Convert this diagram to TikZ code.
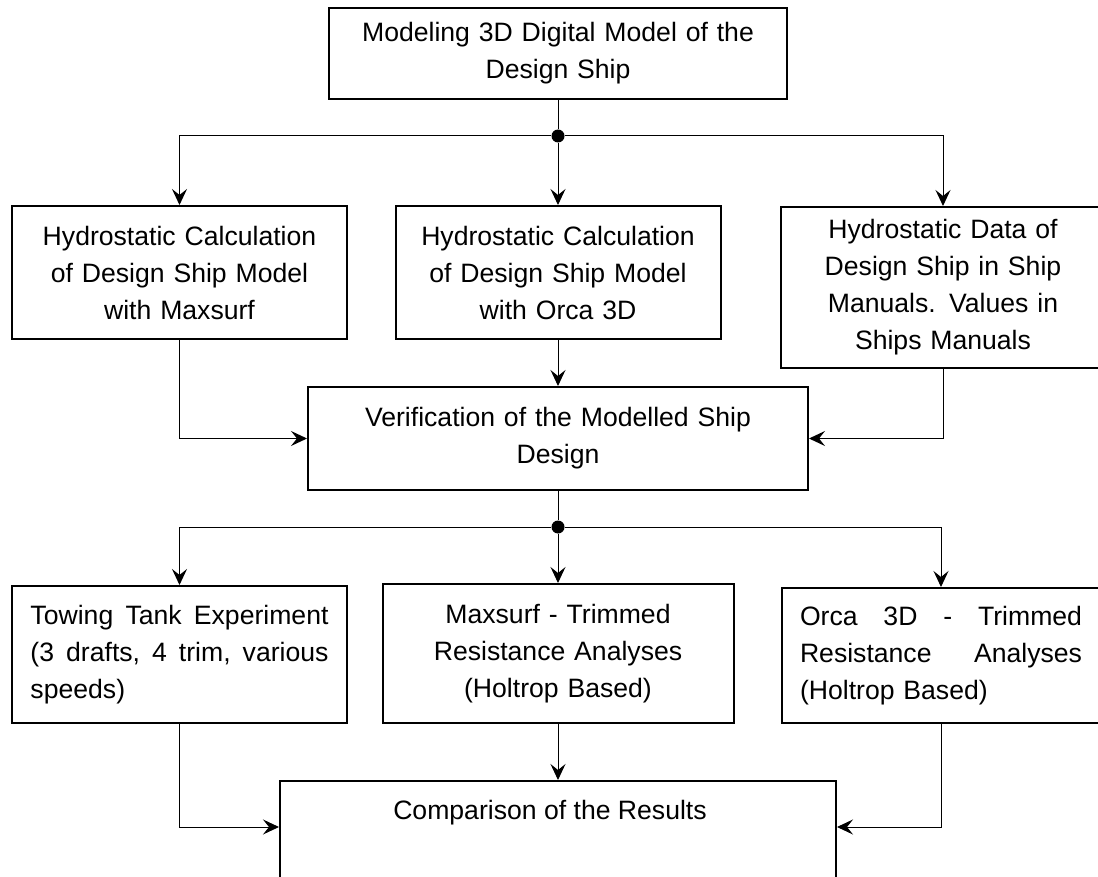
\documentclass[tikz,border=0pt]{standalone}
\usepackage{fontspec}
\setmainfont{Liberation Sans}
\usetikzlibrary{arrows.meta,calc}
\begin{document}
\begin{tikzpicture}[x=1pt,y=-1pt,
  box/.style={draw,line width=2pt,inner sep=0pt,align=center,font=\fontsize{26.6}{37}\selectfont},
  conn/.style={line width=1pt},
  arr/.style={conn,-{Stealth[length=16pt,width=15pt,inset=6pt]}},
  jdot/.style={circle,fill,inner sep=0pt,minimum size=13pt}]
\fill[white] (0,0) rectangle (1098,877);
\useasboundingbox (0,0) rectangle (1098,877);
\clip (0,0) rectangle (1098,877);
% top
\node[box,minimum width=458pt,minimum height=91pt,text width=440pt] (top) at (558,53.5) {Modeling 3D Digital Model of the\\Design Ship};
\node[jdot] (dot1) at (558,136) {};
% row 2
\node[box,minimum width=335pt,minimum height=133pt,text width=320pt] (b1) at (179.5,272.5) {Hydrostatic Calculation\\of Design Ship Model\\with Maxsurf};
\node[box,minimum width=325pt,minimum height=133pt,text width=315pt] (b2) at (558,272.5) {Hydrostatic Calculation\\of Design Ship Model\\with Orca 3D};
\node[box,minimum width=324pt,minimum height=161pt,text width=310pt] (b3) at (943,287.5) {Hydrostatic Data of\\Design Ship in Ship\\Manuals. Values in\\Ships Manuals};
% verification
\node[box,minimum width=500pt,minimum height=103pt,text width=480pt] (ver) at (558,438.5) {Verification of the Modelled Ship\\Design};
\node[jdot] (dot2) at (558,527) {};
% row 3
\node[box,minimum width=335pt,minimum height=137pt,text width=298pt,align=left] (c1) at (179.5,654.5) {Towing\hfill Tank\hfill Experiment\\(3\hfill drafts,\hfill 4\hfill trim,\hfill various\\speeds)};
\node[box,minimum width=351pt,minimum height=139pt,text width=330pt] (c2) at (558,653.5) {Maxsurf - Trimmed\\Resistance Analyses\\(Holtrop Based)};
\node[box,minimum width=318pt,minimum height=135pt,text width=282pt,align=left] (c3) at (941,655.5) {Orca\hfill 3D\hfill -\hfill Trimmed\\Resistance\hfill Analyses\\(Holtrop Based)};
% comparison
\node[box,minimum width=556pt,minimum height=200pt,anchor=north] (cmp) at (558,780) {};
\node[font=\fontsize{26.6}{37}\selectfont,inner sep=0pt] (cmptext) at ($(cmp.north)+(-8,33)$) {Comparison of the Results};
% connectors
\draw[conn] (top.south) -- (dot1);
\draw[arr] (dot1) -| (b1.north);
\draw[arr] (dot1) -- (b2.north);
\draw[arr] (dot1) -| (b3.north);
\draw[arr] (b1.south) |- (ver.west);
\draw[arr] (b2.south) -- (ver.north);
\draw[arr] (b3.south) |- (ver.east);
\draw[conn] (ver.south) -- (dot2);
\draw[arr] (dot2) -| (c1.north);
\draw[arr] (dot2) -- (c2.north);
\draw[arr] (dot2) -| (c3.north);
\draw[arr] (c1.south) |- ($(cmp.north west)+(0,47)$);
\draw[arr] (c2.south) -- (cmp.north);
\draw[arr] (c3.south) |- ($(cmp.north east)+(0,47)$);
\end{tikzpicture}
\end{document}
